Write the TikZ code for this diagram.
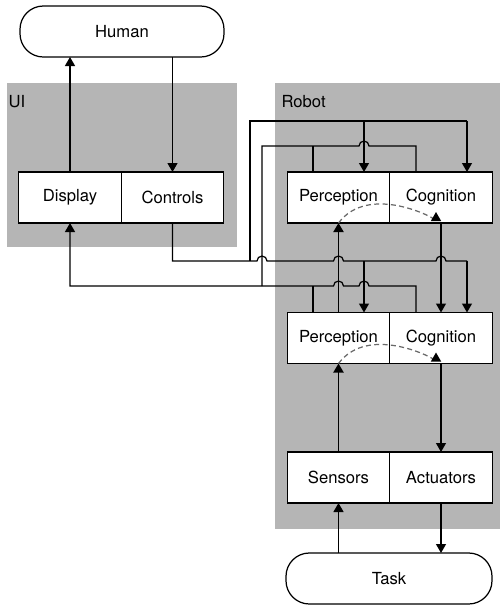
\documentclass[tikz,border=0pt]{standalone}
\usepackage{fontspec}
\setmainfont{TeX Gyre Heros}
\usetikzlibrary{arrows.meta,positioning}
\definecolor{panel}{RGB}{181,181,181}
\definecolor{dashgray}{RGB}{105,105,105}

\begin{document}
\begin{tikzpicture}[x=0.03cm,y=0.03cm,
    font=\fontsize{14.2}{16}\selectfont,
    line width=1.05pt,
    >={Triangle[width=0.3cm,length=0.27cm]},
    unit/.style={draw,fill=white,minimum width=3.075cm,minimum height=1.53cm,inner sep=0pt,outer sep=0pt},
    agent/.style={draw,fill=white,rounded corners=0.7cm,minimum height=1.53cm,inner sep=0pt,outer sep=0pt},
    flow/.style={->},
    strong/.style={->,line width=1.7pt},
    guess/.style={-{Triangle[width=0.3cm,length=0.27cm,color=black]},dashgray,dash pattern=on 0.15cm off 0.1cm}]
	\useasboundingbox (0,0) rectangle (500,-607);

	% panels
	\fill[panel] (7,-83) rectangle (237,-247);
	\fill[panel] (275,-83) rectangle (500,-529);
	\node[anchor=base west,inner sep=0pt] (uilbl) at (8,-107) {UI};
	\node[anchor=base west,inner sep=0pt] (robotlbl) at (281,-107) {Robot};

	% agents and units
	\node[agent,minimum width=6.12cm] (human) at (122,-31.5) {Human};
	\node[unit] (disp) at (70,-197.5) {Display};
	\node[unit,right=0pt of disp] (ctrl) {Controls};
	\node[unit] (p1) at (338.5,-197.5) {Perception};
	\node[unit,right=0pt of p1] (c1) {Cognition};
	\node[unit] (p2) at (338.5,-338) {Perception};
	\node[unit,right=0pt of p2] (c2) {Cognition};
	\node[unit] (sens) at (338.5,-477.5) {Sensors};
	\node[unit,right=0pt of sens] (act) {Actuators};
	\node[agent,minimum width=6.18cm] (task) at (389,-578.5) {Task};

	% columns of the taps, levels of the buses
	\coordinate (po) at (313,0);
	\coordinate (pi) at (364,0);
	\coordinate (co) at (416,0);
	\coordinate (ci) at (467,0);
	\coordinate (inA) at (250,-121);
	\coordinate (outA) at (262,-146);
	\coordinate (inB) at (250,-261);
	\coordinate (outB) at (262,-286);

	% human <-> ui
	\draw[flow] (disp.north) -- (disp.north |- human.south);
	\draw[flow] (human.south -| ctrl) -- (ctrl.north);

	% controls -> robot
	\draw (ctrl.south) -- (ctrl.south |- inB) -- (257,-261) arc (180:0:5)
	      -- (333.5,-261) arc (180:0:5) -- (436,-261) arc (180:0:5) -- (ci |- inB);
	\draw[flow] (ci |- inB) -- (ci |- c2.north);
	\draw[flow] (pi |- inB) -- (pi |- p2.north);
	\draw (inB) -- (inA) -- (ci |- inA);
	\draw[flow] (ci |- inA) -- (ci |- c1.north);
	\draw[flow] (pi |- inA) -- (pi |- p1.north);

	% robot -> display
	\draw[flow] (co |- c2.north) -- (co |- outB) -- (369,-286) arc (0:180:5)
	      -- (343.5,-286) arc (0:180:5) -- (disp.south |- outB) -- (disp.south);
	\draw (po |- p2.north) -- (po |- outB);
	\draw (outB) -- (outA) -- (359,-146) arc (180:0:5) -- (co |- outA) -- (co |- c1.north);
	\draw (po |- outA) -- (po |- p1.north);

	% inside the robot
	\draw[strong] (p2.north) -- (p1.south);
	\draw[strong] (sens.north) -- (p2.south);
	\draw[flow] (c1.south) -- (c2.north);
	\draw[flow] (c2.south) -- (act.north);
	\draw[flow] (act.south) -- (act.south |- task.north);
	\draw[flow] (task.north -| sens) -- (sens.south);
	\draw[guess] (p1.south) .. controls +(30,40) and +(0,-6) .. ([xshift=-0.15cm,yshift=0.33cm]c1.south);
	\draw[guess] (p2.south) .. controls +(30,40) and +(0,-6) .. ([xshift=-0.15cm,yshift=0.33cm]c2.south);
\end{tikzpicture}
\end{document}
